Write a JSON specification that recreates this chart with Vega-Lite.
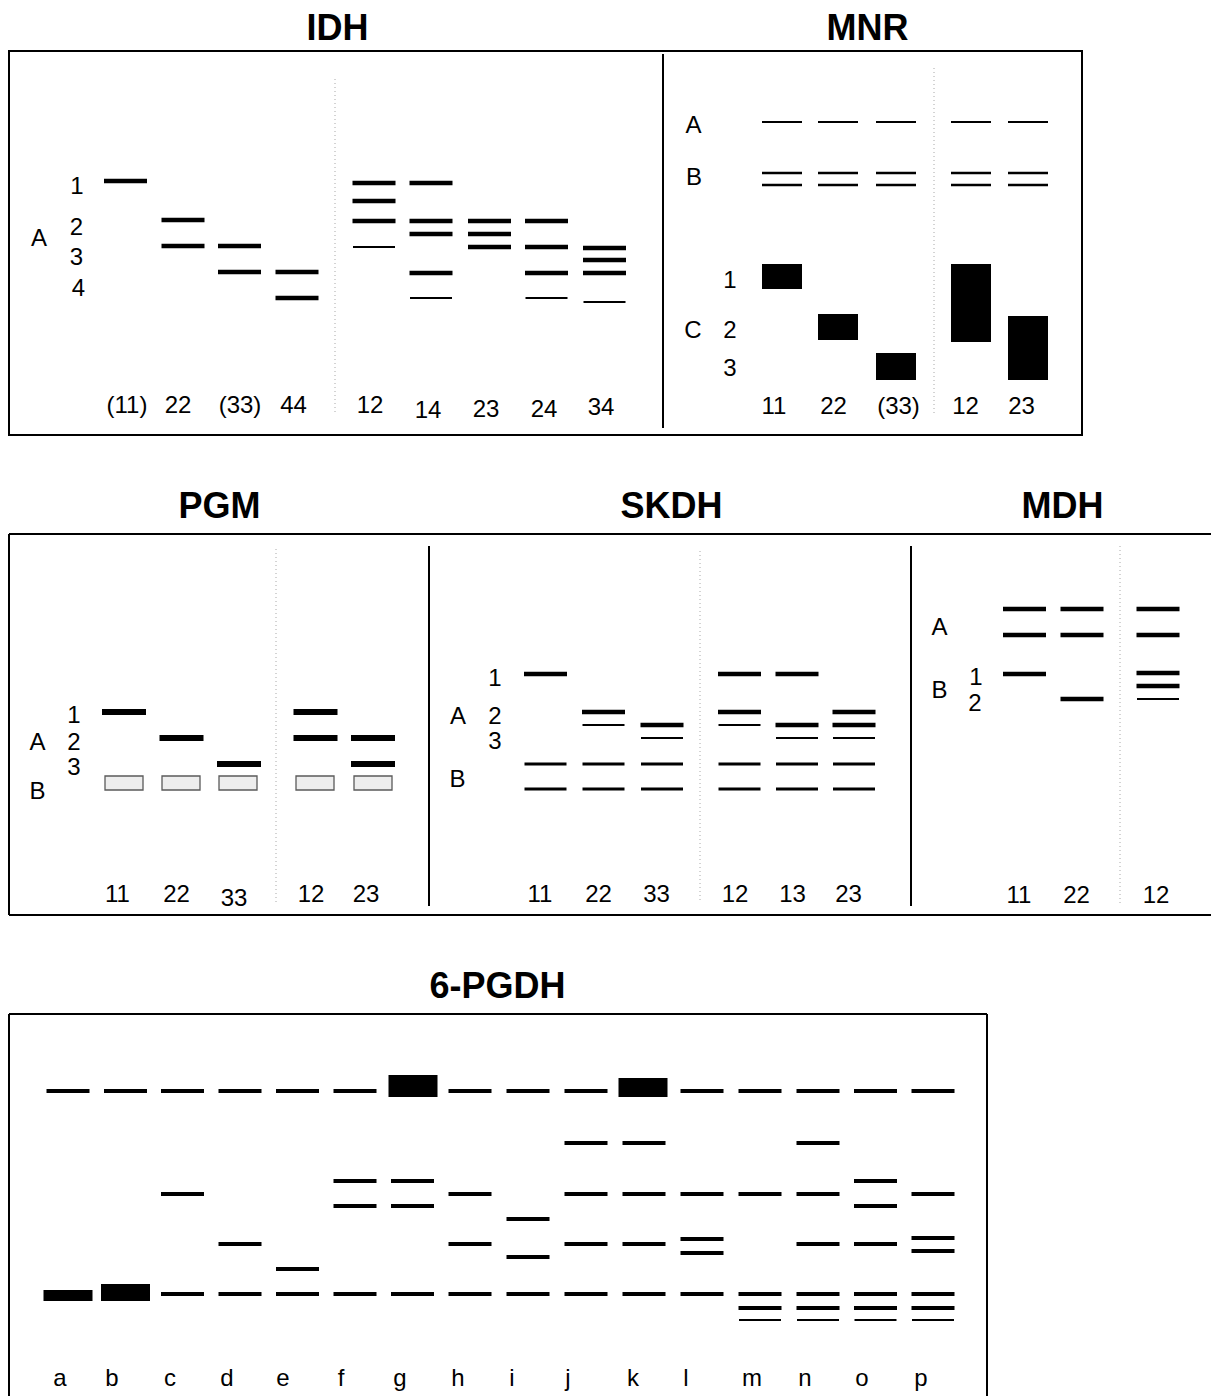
{
  "$schema": "https://vega.github.io/schema/vega-lite/v6.json",
  "background": "white",
  "padding": {"left": 8, "top": 9, "right": 0, "bottom": 0},
  "spacing": 99,
  "bounds": "flush",
  "config": {
    "view": {"stroke": "black", "strokeWidth": 2},
    "text": {"font": "Liberation Sans"}
  },
  "datasets": {
    "bands": [
      {"row":1,"panel":"IDH","lane":125.5,"mobility":180,"intensity":"strong"},
      {"row":1,"panel":"IDH","lane":183,"mobility":219,"intensity":"strong"},
      {"row":1,"panel":"IDH","lane":183,"mobility":245,"intensity":"strong"},
      {"row":1,"panel":"IDH","lane":239.5,"mobility":245,"intensity":"strong"},
      {"row":1,"panel":"IDH","lane":239.5,"mobility":271,"intensity":"strong"},
      {"row":1,"panel":"IDH","lane":297,"mobility":271,"intensity":"strong"},
      {"row":1,"panel":"IDH","lane":297,"mobility":297,"intensity":"strong"},
      {"row":1,"panel":"IDH","lane":374,"mobility":182,"intensity":"strong"},
      {"row":1,"panel":"IDH","lane":374,"mobility":200,"intensity":"strong"},
      {"row":1,"panel":"IDH","lane":374,"mobility":220,"intensity":"strong"},
      {"row":1,"panel":"IDH","lane":374,"mobility":246,"intensity":"weak"},
      {"row":1,"panel":"IDH","lane":431,"mobility":182,"intensity":"strong"},
      {"row":1,"panel":"IDH","lane":431,"mobility":220,"intensity":"strong"},
      {"row":1,"panel":"IDH","lane":431,"mobility":233,"intensity":"strong"},
      {"row":1,"panel":"IDH","lane":431,"mobility":272,"intensity":"strong"},
      {"row":1,"panel":"IDH","lane":431,"mobility":297,"intensity":"weak"},
      {"row":1,"panel":"IDH","lane":489.5,"mobility":220,"intensity":"strong"},
      {"row":1,"panel":"IDH","lane":489.5,"mobility":233,"intensity":"strong"},
      {"row":1,"panel":"IDH","lane":489.5,"mobility":246,"intensity":"strong"},
      {"row":1,"panel":"IDH","lane":546.5,"mobility":220,"intensity":"strong"},
      {"row":1,"panel":"IDH","lane":546.5,"mobility":246,"intensity":"strong"},
      {"row":1,"panel":"IDH","lane":546.5,"mobility":272,"intensity":"strong"},
      {"row":1,"panel":"IDH","lane":546.5,"mobility":297,"intensity":"weak"},
      {"row":1,"panel":"IDH","lane":604.5,"mobility":247,"intensity":"strong"},
      {"row":1,"panel":"IDH","lane":604.5,"mobility":259,"intensity":"strong"},
      {"row":1,"panel":"IDH","lane":604.5,"mobility":272,"intensity":"strong"},
      {"row":1,"panel":"IDH","lane":604.5,"mobility":301,"intensity":"weak"},
      {"row":1,"panel":"MNR","lane":782,"mobility":121,"intensity":"weak"},
      {"row":1,"panel":"MNR","lane":782,"mobility":172,"intensity":"medium"},
      {"row":1,"panel":"MNR","lane":782,"mobility":184,"intensity":"medium"},
      {"row":1,"panel":"MNR","lane":838,"mobility":121,"intensity":"weak"},
      {"row":1,"panel":"MNR","lane":838,"mobility":172,"intensity":"medium"},
      {"row":1,"panel":"MNR","lane":838,"mobility":184,"intensity":"medium"},
      {"row":1,"panel":"MNR","lane":896,"mobility":121,"intensity":"weak"},
      {"row":1,"panel":"MNR","lane":896,"mobility":172,"intensity":"medium"},
      {"row":1,"panel":"MNR","lane":896,"mobility":184,"intensity":"medium"},
      {"row":1,"panel":"MNR","lane":971,"mobility":121,"intensity":"weak"},
      {"row":1,"panel":"MNR","lane":971,"mobility":172,"intensity":"medium"},
      {"row":1,"panel":"MNR","lane":971,"mobility":184,"intensity":"medium"},
      {"row":1,"panel":"MNR","lane":1028,"mobility":121,"intensity":"weak"},
      {"row":1,"panel":"MNR","lane":1028,"mobility":172,"intensity":"medium"},
      {"row":1,"panel":"MNR","lane":1028,"mobility":184,"intensity":"medium"},
      {"row":2,"panel":"PGM","lane":124,"mobility":711,"intensity":"heavy"},
      {"row":2,"panel":"PGM","lane":181.5,"mobility":737,"intensity":"heavy"},
      {"row":2,"panel":"PGM","lane":239,"mobility":763,"intensity":"heavy"},
      {"row":2,"panel":"PGM","lane":315.5,"mobility":711,"intensity":"heavy"},
      {"row":2,"panel":"PGM","lane":315.5,"mobility":737,"intensity":"heavy"},
      {"row":2,"panel":"PGM","lane":373,"mobility":737,"intensity":"heavy"},
      {"row":2,"panel":"PGM","lane":373,"mobility":763,"intensity":"heavy"},
      {"row":2,"panel":"SKDH","lane":545.5,"mobility":673,"intensity":"strong"},
      {"row":2,"panel":"SKDH","lane":545.5,"mobility":763,"intensity":"medium"},
      {"row":2,"panel":"SKDH","lane":545.5,"mobility":788,"intensity":"medium"},
      {"row":2,"panel":"SKDH","lane":603.5,"mobility":711,"intensity":"strong"},
      {"row":2,"panel":"SKDH","lane":603.5,"mobility":724,"intensity":"weak"},
      {"row":2,"panel":"SKDH","lane":603.5,"mobility":763,"intensity":"medium"},
      {"row":2,"panel":"SKDH","lane":603.5,"mobility":788,"intensity":"medium"},
      {"row":2,"panel":"SKDH","lane":662,"mobility":724,"intensity":"strong"},
      {"row":2,"panel":"SKDH","lane":662,"mobility":737,"intensity":"weak"},
      {"row":2,"panel":"SKDH","lane":662,"mobility":763,"intensity":"medium"},
      {"row":2,"panel":"SKDH","lane":662,"mobility":788,"intensity":"medium"},
      {"row":2,"panel":"SKDH","lane":739.5,"mobility":673,"intensity":"strong"},
      {"row":2,"panel":"SKDH","lane":739.5,"mobility":711,"intensity":"strong"},
      {"row":2,"panel":"SKDH","lane":739.5,"mobility":724,"intensity":"weak"},
      {"row":2,"panel":"SKDH","lane":739.5,"mobility":763,"intensity":"medium"},
      {"row":2,"panel":"SKDH","lane":739.5,"mobility":788,"intensity":"medium"},
      {"row":2,"panel":"SKDH","lane":797,"mobility":673,"intensity":"strong"},
      {"row":2,"panel":"SKDH","lane":797,"mobility":724,"intensity":"strong"},
      {"row":2,"panel":"SKDH","lane":797,"mobility":737,"intensity":"weak"},
      {"row":2,"panel":"SKDH","lane":797,"mobility":763,"intensity":"medium"},
      {"row":2,"panel":"SKDH","lane":797,"mobility":788,"intensity":"medium"},
      {"row":2,"panel":"SKDH","lane":854,"mobility":711,"intensity":"strong"},
      {"row":2,"panel":"SKDH","lane":854,"mobility":724,"intensity":"strong"},
      {"row":2,"panel":"SKDH","lane":854,"mobility":737,"intensity":"weak"},
      {"row":2,"panel":"SKDH","lane":854,"mobility":763,"intensity":"medium"},
      {"row":2,"panel":"SKDH","lane":854,"mobility":788,"intensity":"medium"},
      {"row":2,"panel":"MDH","lane":1024.5,"mobility":608,"intensity":"strong"},
      {"row":2,"panel":"MDH","lane":1024.5,"mobility":634,"intensity":"strong"},
      {"row":2,"panel":"MDH","lane":1024.5,"mobility":673,"intensity":"strong"},
      {"row":2,"panel":"MDH","lane":1082,"mobility":608,"intensity":"strong"},
      {"row":2,"panel":"MDH","lane":1082,"mobility":634,"intensity":"strong"},
      {"row":2,"panel":"MDH","lane":1082,"mobility":698,"intensity":"strong"},
      {"row":2,"panel":"MDH","lane":1158,"mobility":608,"intensity":"strong"},
      {"row":2,"panel":"MDH","lane":1158,"mobility":634,"intensity":"strong"},
      {"row":2,"panel":"MDH","lane":1158,"mobility":672,"intensity":"strong"},
      {"row":2,"panel":"MDH","lane":1158,"mobility":685,"intensity":"strong"},
      {"row":2,"panel":"MDH","lane":1158,"mobility":698,"intensity":"weak"},
      {"row":3,"panel":"6-PGDH","lane":68,"mobility":1090,"intensity":"strong"},
      {"row":3,"panel":"6-PGDH","lane":125.5,"mobility":1090,"intensity":"strong"},
      {"row":3,"panel":"6-PGDH","lane":182.5,"mobility":1090,"intensity":"strong"},
      {"row":3,"panel":"6-PGDH","lane":182.5,"mobility":1193,"intensity":"strong"},
      {"row":3,"panel":"6-PGDH","lane":182.5,"mobility":1293,"intensity":"strong"},
      {"row":3,"panel":"6-PGDH","lane":240,"mobility":1090,"intensity":"strong"},
      {"row":3,"panel":"6-PGDH","lane":240,"mobility":1243,"intensity":"strong"},
      {"row":3,"panel":"6-PGDH","lane":240,"mobility":1293,"intensity":"strong"},
      {"row":3,"panel":"6-PGDH","lane":297.5,"mobility":1090,"intensity":"strong"},
      {"row":3,"panel":"6-PGDH","lane":297.5,"mobility":1268,"intensity":"strong"},
      {"row":3,"panel":"6-PGDH","lane":297.5,"mobility":1293,"intensity":"strong"},
      {"row":3,"panel":"6-PGDH","lane":355,"mobility":1090,"intensity":"strong"},
      {"row":3,"panel":"6-PGDH","lane":355,"mobility":1180,"intensity":"strong"},
      {"row":3,"panel":"6-PGDH","lane":355,"mobility":1205,"intensity":"strong"},
      {"row":3,"panel":"6-PGDH","lane":355,"mobility":1293,"intensity":"strong"},
      {"row":3,"panel":"6-PGDH","lane":412.5,"mobility":1180,"intensity":"strong"},
      {"row":3,"panel":"6-PGDH","lane":412.5,"mobility":1205,"intensity":"strong"},
      {"row":3,"panel":"6-PGDH","lane":412.5,"mobility":1293,"intensity":"strong"},
      {"row":3,"panel":"6-PGDH","lane":470,"mobility":1090,"intensity":"strong"},
      {"row":3,"panel":"6-PGDH","lane":470,"mobility":1193,"intensity":"strong"},
      {"row":3,"panel":"6-PGDH","lane":470,"mobility":1243,"intensity":"strong"},
      {"row":3,"panel":"6-PGDH","lane":470,"mobility":1293,"intensity":"strong"},
      {"row":3,"panel":"6-PGDH","lane":528,"mobility":1090,"intensity":"strong"},
      {"row":3,"panel":"6-PGDH","lane":528,"mobility":1218,"intensity":"strong"},
      {"row":3,"panel":"6-PGDH","lane":528,"mobility":1256,"intensity":"strong"},
      {"row":3,"panel":"6-PGDH","lane":528,"mobility":1293,"intensity":"strong"},
      {"row":3,"panel":"6-PGDH","lane":586,"mobility":1090,"intensity":"strong"},
      {"row":3,"panel":"6-PGDH","lane":586,"mobility":1142,"intensity":"strong"},
      {"row":3,"panel":"6-PGDH","lane":586,"mobility":1193,"intensity":"strong"},
      {"row":3,"panel":"6-PGDH","lane":586,"mobility":1243,"intensity":"strong"},
      {"row":3,"panel":"6-PGDH","lane":586,"mobility":1293,"intensity":"strong"},
      {"row":3,"panel":"6-PGDH","lane":644,"mobility":1142,"intensity":"strong"},
      {"row":3,"panel":"6-PGDH","lane":644,"mobility":1193,"intensity":"strong"},
      {"row":3,"panel":"6-PGDH","lane":644,"mobility":1243,"intensity":"strong"},
      {"row":3,"panel":"6-PGDH","lane":644,"mobility":1293,"intensity":"strong"},
      {"row":3,"panel":"6-PGDH","lane":702,"mobility":1090,"intensity":"strong"},
      {"row":3,"panel":"6-PGDH","lane":702,"mobility":1193,"intensity":"strong"},
      {"row":3,"panel":"6-PGDH","lane":702,"mobility":1238,"intensity":"strong"},
      {"row":3,"panel":"6-PGDH","lane":702,"mobility":1252,"intensity":"strong"},
      {"row":3,"panel":"6-PGDH","lane":702,"mobility":1293,"intensity":"strong"},
      {"row":3,"panel":"6-PGDH","lane":760,"mobility":1090,"intensity":"strong"},
      {"row":3,"panel":"6-PGDH","lane":760,"mobility":1193,"intensity":"strong"},
      {"row":3,"panel":"6-PGDH","lane":760,"mobility":1293,"intensity":"strong"},
      {"row":3,"panel":"6-PGDH","lane":760,"mobility":1307,"intensity":"strong"},
      {"row":3,"panel":"6-PGDH","lane":760,"mobility":1319,"intensity":"weak"},
      {"row":3,"panel":"6-PGDH","lane":818,"mobility":1090,"intensity":"strong"},
      {"row":3,"panel":"6-PGDH","lane":818,"mobility":1142,"intensity":"strong"},
      {"row":3,"panel":"6-PGDH","lane":818,"mobility":1193,"intensity":"strong"},
      {"row":3,"panel":"6-PGDH","lane":818,"mobility":1243,"intensity":"strong"},
      {"row":3,"panel":"6-PGDH","lane":818,"mobility":1293,"intensity":"strong"},
      {"row":3,"panel":"6-PGDH","lane":818,"mobility":1307,"intensity":"strong"},
      {"row":3,"panel":"6-PGDH","lane":818,"mobility":1319,"intensity":"weak"},
      {"row":3,"panel":"6-PGDH","lane":875.5,"mobility":1090,"intensity":"strong"},
      {"row":3,"panel":"6-PGDH","lane":875.5,"mobility":1180,"intensity":"strong"},
      {"row":3,"panel":"6-PGDH","lane":875.5,"mobility":1205,"intensity":"strong"},
      {"row":3,"panel":"6-PGDH","lane":875.5,"mobility":1243,"intensity":"strong"},
      {"row":3,"panel":"6-PGDH","lane":875.5,"mobility":1293,"intensity":"strong"},
      {"row":3,"panel":"6-PGDH","lane":875.5,"mobility":1307,"intensity":"strong"},
      {"row":3,"panel":"6-PGDH","lane":875.5,"mobility":1319,"intensity":"weak"},
      {"row":3,"panel":"6-PGDH","lane":933,"mobility":1090,"intensity":"strong"},
      {"row":3,"panel":"6-PGDH","lane":933,"mobility":1193,"intensity":"strong"},
      {"row":3,"panel":"6-PGDH","lane":933,"mobility":1237,"intensity":"strong"},
      {"row":3,"panel":"6-PGDH","lane":933,"mobility":1250,"intensity":"strong"},
      {"row":3,"panel":"6-PGDH","lane":933,"mobility":1293,"intensity":"strong"},
      {"row":3,"panel":"6-PGDH","lane":933,"mobility":1307,"intensity":"strong"},
      {"row":3,"panel":"6-PGDH","lane":933,"mobility":1319,"intensity":"weak"}
    ],
    "zones": [
      {"row":1,"panel":"MNR","lane":782,"mobility":263,"mobility_end":288,"stain":"heavy"},
      {"row":1,"panel":"MNR","lane":838,"mobility":313,"mobility_end":339,"stain":"heavy"},
      {"row":1,"panel":"MNR","lane":896,"mobility":352,"mobility_end":379,"stain":"heavy"},
      {"row":1,"panel":"MNR","lane":971,"mobility":263,"mobility_end":341,"stain":"heavy"},
      {"row":1,"panel":"MNR","lane":1028,"mobility":315,"mobility_end":379,"stain":"heavy"},
      {"row":2,"panel":"PGM","lane":124,"mobility":775,"mobility_end":789,"stain":"faint"},
      {"row":2,"panel":"PGM","lane":181,"mobility":775,"mobility_end":789,"stain":"faint"},
      {"row":2,"panel":"PGM","lane":238,"mobility":775,"mobility_end":789,"stain":"faint"},
      {"row":2,"panel":"PGM","lane":315,"mobility":775,"mobility_end":789,"stain":"faint"},
      {"row":2,"panel":"PGM","lane":373,"mobility":775,"mobility_end":789,"stain":"faint"},
      {"row":3,"panel":"6-PGDH","lane":68,"mobility":1289,"mobility_end":1300,"stain":"heavy"},
      {"row":3,"panel":"6-PGDH","lane":125.5,"mobility":1283,"mobility_end":1300,"stain":"heavy"},
      {"row":3,"panel":"6-PGDH","lane":413,"mobility":1074,"mobility_end":1096,"stain":"heavy"},
      {"row":3,"panel":"6-PGDH","lane":643,"mobility":1077,"mobility_end":1096,"stain":"heavy"}
    ],
    "lines": [
      {"row":1,"lane":663,"mobility":53,"mobility_end":427,"kind":"panel"},
      {"row":1,"lane":335,"mobility":78,"mobility_end":412,"kind":"lane group"},
      {"row":1,"lane":934,"mobility":67,"mobility_end":413,"kind":"lane group"},
      {"row":2,"lane":429,"mobility":545,"mobility_end":905,"kind":"panel"},
      {"row":2,"lane":911,"mobility":545,"mobility_end":905,"kind":"panel"},
      {"row":2,"lane":276,"mobility":548,"mobility_end":903,"kind":"lane group"},
      {"row":2,"lane":700,"mobility":550,"mobility_end":900,"kind":"lane group"},
      {"row":2,"lane":1120,"mobility":545,"mobility_end":905,"kind":"lane group"}
    ],
    "frame": [
      {"row":2,"lane":9,"lane_end":1211,"mobility":533,"mobility_end":533},
      {"row":2,"lane":9,"lane_end":1211,"mobility":914,"mobility_end":914},
      {"row":2,"lane":9,"lane_end":9,"mobility":533,"mobility_end":914},
      {"row":3,"lane":9,"lane_end":987,"mobility":1013,"mobility_end":1013},
      {"row":3,"lane":9,"lane_end":9,"mobility":1013,"mobility_end":1396},
      {"row":3,"lane":987,"lane_end":987,"mobility":1013,"mobility_end":1396}
    ],
    "labels": [
      {"row":1,"lane":39,"mobility":238,"text":"A"},
      {"row":1,"lane":77,"mobility":185.5,"text":"1"},
      {"row":1,"lane":76.5,"mobility":226.5,"text":"2"},
      {"row":1,"lane":76.5,"mobility":256.5,"text":"3"},
      {"row":1,"lane":78.5,"mobility":288,"text":"4"},
      {"row":1,"lane":127,"mobility":405,"text":"(11)"},
      {"row":1,"lane":178,"mobility":405,"text":"22"},
      {"row":1,"lane":240,"mobility":405,"text":"(33)"},
      {"row":1,"lane":293.5,"mobility":405,"text":"44"},
      {"row":1,"lane":370,"mobility":405,"text":"12"},
      {"row":1,"lane":428,"mobility":409.5,"text":"14"},
      {"row":1,"lane":486,"mobility":409,"text":"23"},
      {"row":1,"lane":544,"mobility":409,"text":"24"},
      {"row":1,"lane":601,"mobility":406.5,"text":"34"},
      {"row":1,"lane":693.5,"mobility":125,"text":"A"},
      {"row":1,"lane":694,"mobility":176.5,"text":"B"},
      {"row":1,"lane":730,"mobility":280,"text":"1"},
      {"row":1,"lane":693,"mobility":330,"text":"C"},
      {"row":1,"lane":730,"mobility":330,"text":"2"},
      {"row":1,"lane":730,"mobility":368,"text":"3"},
      {"row":1,"lane":774,"mobility":405.5,"text":"11"},
      {"row":1,"lane":833.5,"mobility":405.5,"text":"22"},
      {"row":1,"lane":898.5,"mobility":405.5,"text":"(33)"},
      {"row":1,"lane":965.5,"mobility":405.5,"text":"12"},
      {"row":1,"lane":1021.5,"mobility":405.5,"text":"23"},
      {"row":2,"lane":74,"mobility":715,"text":"1"},
      {"row":2,"lane":37.5,"mobility":741.5,"text":"A"},
      {"row":2,"lane":74,"mobility":741.5,"text":"2"},
      {"row":2,"lane":74,"mobility":766.5,"text":"3"},
      {"row":2,"lane":37.5,"mobility":790.5,"text":"B"},
      {"row":2,"lane":117.5,"mobility":894,"text":"11"},
      {"row":2,"lane":176.5,"mobility":894,"text":"22"},
      {"row":2,"lane":234,"mobility":898,"text":"33"},
      {"row":2,"lane":311,"mobility":894,"text":"12"},
      {"row":2,"lane":366,"mobility":894,"text":"23"},
      {"row":2,"lane":495,"mobility":677.5,"text":"1"},
      {"row":2,"lane":458,"mobility":715.5,"text":"A"},
      {"row":2,"lane":495,"mobility":715.5,"text":"2"},
      {"row":2,"lane":495,"mobility":740.5,"text":"3"},
      {"row":2,"lane":457.5,"mobility":779,"text":"B"},
      {"row":2,"lane":540,"mobility":894,"text":"11"},
      {"row":2,"lane":598.5,"mobility":894,"text":"22"},
      {"row":2,"lane":656.5,"mobility":894,"text":"33"},
      {"row":2,"lane":735,"mobility":894,"text":"12"},
      {"row":2,"lane":792.5,"mobility":894,"text":"13"},
      {"row":2,"lane":848.5,"mobility":894,"text":"23"},
      {"row":2,"lane":939.5,"mobility":627,"text":"A"},
      {"row":2,"lane":939.5,"mobility":690,"text":"B"},
      {"row":2,"lane":976,"mobility":677,"text":"1"},
      {"row":2,"lane":975,"mobility":703,"text":"2"},
      {"row":2,"lane":1019,"mobility":895,"text":"11"},
      {"row":2,"lane":1076.5,"mobility":895,"text":"22"},
      {"row":2,"lane":1156,"mobility":895,"text":"12"},
      {"row":3,"lane":60,"mobility":1378,"text":"a"},
      {"row":3,"lane":112,"mobility":1378,"text":"b"},
      {"row":3,"lane":170,"mobility":1378,"text":"c"},
      {"row":3,"lane":227,"mobility":1378,"text":"d"},
      {"row":3,"lane":283,"mobility":1378,"text":"e"},
      {"row":3,"lane":341,"mobility":1378,"text":"f"},
      {"row":3,"lane":400,"mobility":1378,"text":"g"},
      {"row":3,"lane":458,"mobility":1378,"text":"h"},
      {"row":3,"lane":512,"mobility":1378,"text":"i"},
      {"row":3,"lane":568,"mobility":1378,"text":"j"},
      {"row":3,"lane":633,"mobility":1378,"text":"k"},
      {"row":3,"lane":686,"mobility":1378,"text":"l"},
      {"row":3,"lane":752,"mobility":1378,"text":"m"},
      {"row":3,"lane":805,"mobility":1378,"text":"n"},
      {"row":3,"lane":862,"mobility":1378,"text":"o"},
      {"row":3,"lane":921,"mobility":1378,"text":"p"}
    ]
  },
  "vconcat": [
    {
      "width": 1073,
      "height": 384,
      "encoding": {
        "x": {"field": "lane", "type": "quantitative",
              "scale": {"domain": [9, 1082], "nice": false, "zero": false, "padding": 0},
              "axis": {"orient": "top", "values": [337, 867], "labelExpr": "datum.value == 337 ? 'IDH' : 'MNR'", "title": null, "grid": false, "domain": false, "ticks": false, "tickSize": 0, "labelPadding": 12, "labelFont": "Liberation Sans", "labelFontSize": 36, "labelFontWeight": "bold", "labelColor": "black", "labelBaseline": "alphabetic", "labelAlign": "center", "labelFlush": false, "labelOverlap": false}},
        "y": {"field": "mobility", "type": "quantitative",
              "scale": {"domain": [50, 434], "reverse": true, "nice": false, "zero": false, "padding": 0},
              "axis": null}
      },
      "layer": [
        {"data": {"name": "lines"}, "transform": [{"filter": "datum.row == 1 && datum.kind == 'lane group'"}],
         "mark": {"type": "rule", "color": "#a8a8a8", "strokeWidth": 1, "strokeDash": [1, 3]},
         "encoding": {"y2": {"field": "mobility_end"}}},
        {"data": {"name": "lines"}, "transform": [{"filter": "datum.row == 1 && datum.kind == 'panel'"}],
         "mark": {"type": "rule", "color": "black", "strokeWidth": 2},
         "encoding": {"y2": {"field": "mobility_end"}}},
        {"data": {"name": "zones"}, "transform": [{"filter": "datum.row == 1"}],
         "mark": {"type": "bar", "color": "black", "size": 40, "opacity": 1},
         "encoding": {"y2": {"field": "mobility_end"}}},
        {"data": {"name": "bands"}, "transform": [{"filter": "datum.row == 1 && datum.panel == 'IDH' && datum.intensity == 'strong'"}],
         "mark": {"type": "tick", "orient": "horizontal", "color": "black", "size": 43, "thickness": 4.5, "opacity": 1}},
        {"data": {"name": "bands"}, "transform": [{"filter": "datum.row == 1 && datum.panel == 'IDH' && datum.intensity == 'weak'"}],
         "mark": {"type": "tick", "orient": "horizontal", "color": "black", "size": 42, "thickness": 2, "opacity": 1}},
        {"data": {"name": "bands"}, "transform": [{"filter": "datum.row == 1 && datum.panel == 'MNR' && datum.intensity == 'weak'"}],
         "mark": {"type": "tick", "orient": "horizontal", "color": "black", "size": 40, "thickness": 2, "opacity": 1}},
        {"data": {"name": "bands"}, "transform": [{"filter": "datum.row == 1 && datum.panel == 'MNR' && datum.intensity == 'medium'"}],
         "mark": {"type": "tick", "orient": "horizontal", "color": "black", "size": 40, "thickness": 2.5, "opacity": 1}},
        {"data": {"name": "labels"}, "transform": [{"filter": "datum.row == 1"}],
         "mark": {"type": "text", "font": "Liberation Sans", "fontSize": 24, "align": "center", "baseline": "middle", "color": "black"},
         "encoding": {"text": {"field": "text"}}}
      ]
    },
    {
      "width": 1202,
      "height": 381,
      "view": {"stroke": null},
      "encoding": {
        "x": {"field": "lane", "type": "quantitative",
              "scale": {"domain": [9, 1211], "nice": false, "zero": false, "padding": 0},
              "axis": {"orient": "top", "values": [219, 671, 1062], "labelExpr": "datum.value == 219 ? 'PGM' : datum.value == 671 ? 'SKDH' : 'MDH'", "title": null, "grid": false, "domain": false, "ticks": false, "tickSize": 0, "labelPadding": 17, "labelFont": "Liberation Sans", "labelFontSize": 36, "labelFontWeight": "bold", "labelColor": "black", "labelBaseline": "alphabetic", "labelAlign": "center", "labelFlush": false, "labelOverlap": false}},
        "y": {"field": "mobility", "type": "quantitative",
              "scale": {"domain": [533, 914], "reverse": true, "nice": false, "zero": false, "padding": 0},
              "axis": null}
      },
      "layer": [
        {"data": {"name": "frame"}, "transform": [{"filter": "datum.row == 2"}],
         "mark": {"type": "rule", "color": "black", "strokeWidth": 2},
         "encoding": {"x2": {"field": "lane_end"}, "y2": {"field": "mobility_end"}}},
        {"data": {"name": "lines"}, "transform": [{"filter": "datum.row == 2 && datum.kind == 'lane group'"}],
         "mark": {"type": "rule", "color": "#a8a8a8", "strokeWidth": 1, "strokeDash": [1, 3]},
         "encoding": {"y2": {"field": "mobility_end"}}},
        {"data": {"name": "lines"}, "transform": [{"filter": "datum.row == 2 && datum.kind == 'panel'"}],
         "mark": {"type": "rule", "color": "black", "strokeWidth": 2},
         "encoding": {"y2": {"field": "mobility_end"}}},
        {"data": {"name": "zones"}, "transform": [{"filter": "datum.row == 2"}],
         "mark": {"type": "bar", "fill": "#ededed", "stroke": "#5a5a5a", "strokeWidth": 1.3, "size": 38, "opacity": 1},
         "encoding": {"y2": {"field": "mobility_end"}}},
        {"data": {"name": "bands"}, "transform": [{"filter": "datum.row == 2 && datum.intensity == 'heavy'"}],
         "mark": {"type": "tick", "orient": "horizontal", "color": "black", "size": 44, "thickness": 6, "opacity": 1}},
        {"data": {"name": "bands"}, "transform": [{"filter": "datum.row == 2 && datum.intensity == 'strong'"}],
         "mark": {"type": "tick", "orient": "horizontal", "color": "black", "size": 43, "thickness": 4.5, "opacity": 1}},
        {"data": {"name": "bands"}, "transform": [{"filter": "datum.row == 2 && datum.intensity == 'medium'"}],
         "mark": {"type": "tick", "orient": "horizontal", "color": "black", "size": 42, "thickness": 3, "opacity": 1}},
        {"data": {"name": "bands"}, "transform": [{"filter": "datum.row == 2 && datum.intensity == 'weak'"}],
         "mark": {"type": "tick", "orient": "horizontal", "color": "black", "size": 42, "thickness": 2.2, "opacity": 1}},
        {"data": {"name": "labels"}, "transform": [{"filter": "datum.row == 2"}],
         "mark": {"type": "text", "font": "Liberation Sans", "fontSize": 24, "align": "center", "baseline": "middle", "color": "black"},
         "encoding": {"text": {"field": "text"}}}
      ]
    },
    {
      "width": 978,
      "height": 383,
      "view": {"stroke": null},
      "encoding": {
        "x": {"field": "lane", "type": "quantitative",
              "scale": {"domain": [9, 987], "nice": false, "zero": false, "padding": 0},
              "axis": {"orient": "top", "values": [497], "labelExpr": "'6-PGDH'", "title": null, "grid": false, "domain": false, "ticks": false, "tickSize": 0, "labelPadding": 17, "labelFont": "Liberation Sans", "labelFontSize": 36, "labelFontWeight": "bold", "labelColor": "black", "labelBaseline": "alphabetic", "labelAlign": "center", "labelFlush": false, "labelOverlap": false}},
        "y": {"field": "mobility", "type": "quantitative",
              "scale": {"domain": [1013, 1396], "reverse": true, "nice": false, "zero": false, "padding": 0},
              "axis": null}
      },
      "layer": [
        {"data": {"name": "frame"}, "transform": [{"filter": "datum.row == 3"}],
         "mark": {"type": "rule", "color": "black", "strokeWidth": 2},
         "encoding": {"x2": {"field": "lane_end"}, "y2": {"field": "mobility_end"}}},
        {"data": {"name": "zones"}, "transform": [{"filter": "datum.row == 3"}],
         "mark": {"type": "bar", "color": "black", "size": 49, "opacity": 1},
         "encoding": {"y2": {"field": "mobility_end"}}},
        {"data": {"name": "bands"}, "transform": [{"filter": "datum.row == 3 && datum.intensity == 'strong'"}],
         "mark": {"type": "tick", "orient": "horizontal", "color": "black", "size": 43, "thickness": 4, "opacity": 1}},
        {"data": {"name": "bands"}, "transform": [{"filter": "datum.row == 3 && datum.intensity == 'weak'"}],
         "mark": {"type": "tick", "orient": "horizontal", "color": "black", "size": 42, "thickness": 2, "opacity": 1}},
        {"data": {"name": "labels"}, "transform": [{"filter": "datum.row == 3"}],
         "mark": {"type": "text", "font": "Liberation Sans", "fontSize": 24, "align": "center", "baseline": "middle", "color": "black"},
         "encoding": {"text": {"field": "text"}}}
      ]
    }
  ]
}
